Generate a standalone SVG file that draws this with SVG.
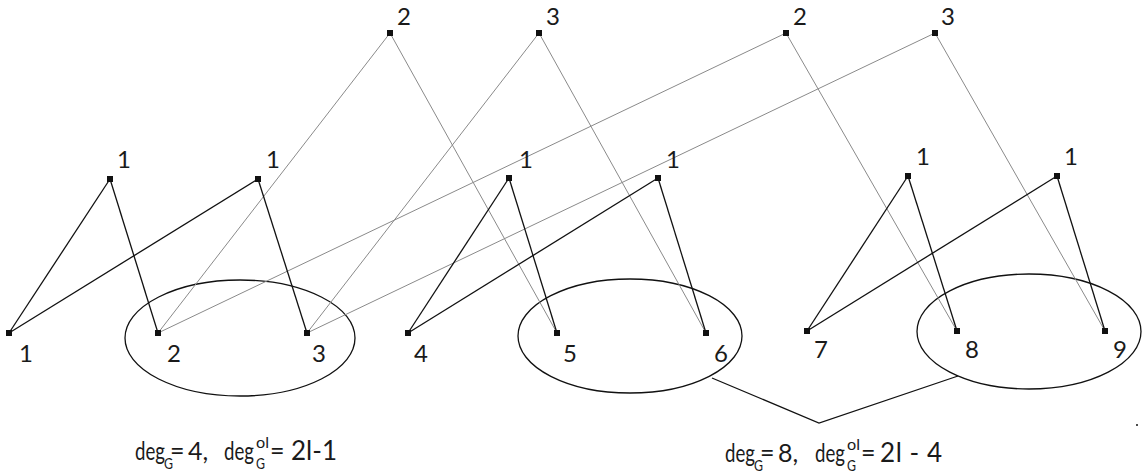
<svg xmlns="http://www.w3.org/2000/svg" width="1143" height="472" viewBox="0 0 1143 472">
<style>
.bg{fill:#fff}
.k{stroke:#111;stroke-width:1.3;fill:none}
.g{stroke:#8a8a8a;stroke-width:1;fill:none}
.ell{stroke:#111;stroke-width:1.3;fill:none}
.n{fill:#111}
.lbl{font-family:Lato,"Open Sans","Liberation Sans",sans-serif;font-size:24px;fill:#1a1a1a;text-anchor:middle}
.t{font-family:Lato,"Open Sans","Liberation Sans",sans-serif;font-size:25px;fill:#1a1a1a}
.s{font-family:Lato,"Open Sans","Liberation Sans",sans-serif;font-size:15px;fill:#1a1a1a}
</style>
<rect class="bg" x="0" y="0" width="1143" height="472"/>
<g id="groups">
<ellipse class="ell" cx="240" cy="338" rx="115" ry="58"/>
<ellipse class="ell" cx="630" cy="336" rx="112" ry="57"/>
<ellipse class="ell" cx="1029" cy="331.5" rx="112" ry="57.5"/>
</g>
<g id="connectors">
<g class="g">
<line x1="390" y1="33" x2="158" y2="333"/>
<line x1="390" y1="33" x2="557" y2="333"/>
<line x1="539" y1="33" x2="307" y2="333"/>
<line x1="539" y1="33" x2="706" y2="333"/>
<line x1="786" y1="33" x2="158" y2="333"/>
<line x1="786" y1="33" x2="957" y2="331"/>
<line x1="935" y1="33" x2="307" y2="333"/>
<line x1="935" y1="33" x2="1105" y2="331"/>
</g>
<g class="k">
<line x1="110" y1="179" x2="9" y2="333"/>
<line x1="110" y1="179" x2="158" y2="333"/>
<line x1="258" y1="179" x2="9" y2="333"/>
<line x1="258" y1="179" x2="307" y2="333"/>
<line x1="509" y1="178" x2="408" y2="333"/>
<line x1="509" y1="178" x2="557" y2="333"/>
<line x1="658" y1="178" x2="408" y2="333"/>
<line x1="658" y1="178" x2="706" y2="333"/>
<line x1="908" y1="176" x2="807" y2="331"/>
<line x1="908" y1="176" x2="957" y2="331"/>
<line x1="1057" y1="176" x2="807" y2="331"/>
<line x1="1057" y1="176" x2="1105" y2="331"/>
<polyline points="712,378 819,423 958,376"/>
</g>
</g>
<g id="n-top2a"><rect class="n" x="387" y="30" width="6" height="6"/><text class="lbl" x="404" y="25">2</text></g>
<g id="n-top3a"><rect class="n" x="536" y="30" width="6" height="6"/><text class="lbl" x="553" y="25">3</text></g>
<g id="n-top2b"><rect class="n" x="783" y="30" width="6" height="6"/><text class="lbl" x="800" y="25">2</text></g>
<g id="n-top3b"><rect class="n" x="932" y="30" width="6" height="6"/><text class="lbl" x="948" y="25">3</text></g>
<g id="n-m1"><rect class="n" x="107" y="176" width="6" height="6"/><text class="lbl" x="124" y="168">1</text></g>
<g id="n-m2"><rect class="n" x="255" y="176" width="6" height="6"/><text class="lbl" x="273" y="168">1</text></g>
<g id="n-m3"><rect class="n" x="506" y="175" width="6" height="6"/><text class="lbl" x="526" y="168">1</text></g>
<g id="n-m4"><rect class="n" x="655" y="175" width="6" height="6"/><text class="lbl" x="673" y="168">1</text></g>
<g id="n-m5"><rect class="n" x="905" y="173" width="6" height="6"/><text class="lbl" x="923" y="165">1</text></g>
<g id="n-m6"><rect class="n" x="1054" y="173" width="6" height="6"/><text class="lbl" x="1071" y="165">1</text></g>
<g id="n-b1"><rect class="n" x="6" y="330" width="6" height="6"/><text class="lbl" x="26" y="362">1</text></g>
<g id="n-b2"><rect class="n" x="155" y="330" width="6" height="6"/><text class="lbl" x="174" y="362">2</text></g>
<g id="n-b3"><rect class="n" x="304" y="330" width="6" height="6"/><text class="lbl" x="319" y="362">3</text></g>
<g id="n-b4"><rect class="n" x="405" y="330" width="6" height="6"/><text class="lbl" x="421" y="362">4</text></g>
<g id="n-b5"><rect class="n" x="554" y="330" width="6" height="6"/><text class="lbl" x="570" y="362">5</text></g>
<g id="n-b6"><rect class="n" x="703" y="330" width="6" height="6"/><text class="lbl" x="721" y="362">6</text></g>
<g id="n-b7"><rect class="n" x="804" y="328" width="6" height="6"/><text class="lbl" x="821" y="358">7</text></g>
<g id="n-b8"><rect class="n" x="954" y="328" width="6" height="6"/><text class="lbl" x="972" y="358">8</text></g>
<g id="n-b9"><rect class="n" x="1102" y="328" width="6" height="6"/><text class="lbl" x="1120" y="358">9</text></g>
<g id="caption-left">
<text class="t" x="135" y="460" textLength="30" lengthAdjust="spacingAndGlyphs">deg</text>
<text class="s" x="164" y="469" textLength="9" lengthAdjust="spacingAndGlyphs">G</text>
<text class="t" x="170" y="460">=</text>
<text class="t" x="188" y="460">4,</text>
<text class="t" x="224" y="460" textLength="30" lengthAdjust="spacingAndGlyphs">deg</text>
<text class="s" x="256" y="448" textLength="13" lengthAdjust="spacingAndGlyphs">ol</text>
<text class="s" x="256" y="469" textLength="9" lengthAdjust="spacingAndGlyphs">G</text>
<text class="t" x="270" y="460">=</text>
<text class="t" x="291" y="460" style="font-size:26px">2l-1</text>
</g>
<g id="caption-right">
<text class="t" x="725" y="462" textLength="30" lengthAdjust="spacingAndGlyphs">deg</text>
<text class="s" x="754" y="471" textLength="9" lengthAdjust="spacingAndGlyphs">G</text>
<text class="t" x="760" y="462">=</text>
<text class="t" x="778" y="462">8,</text>
<text class="t" x="815" y="462" textLength="30" lengthAdjust="spacingAndGlyphs">deg</text>
<text class="s" x="847" y="450" textLength="13" lengthAdjust="spacingAndGlyphs">ol</text>
<text class="s" x="847" y="471" textLength="9" lengthAdjust="spacingAndGlyphs">G</text>
<text class="t" x="861" y="462">=</text>
<text class="t" x="880" y="462" style="font-size:26px" textLength="62" lengthAdjust="spacing">2l - 4</text>
</g>
<circle class="n" cx="1137" cy="425" r="1"/>
</svg>
